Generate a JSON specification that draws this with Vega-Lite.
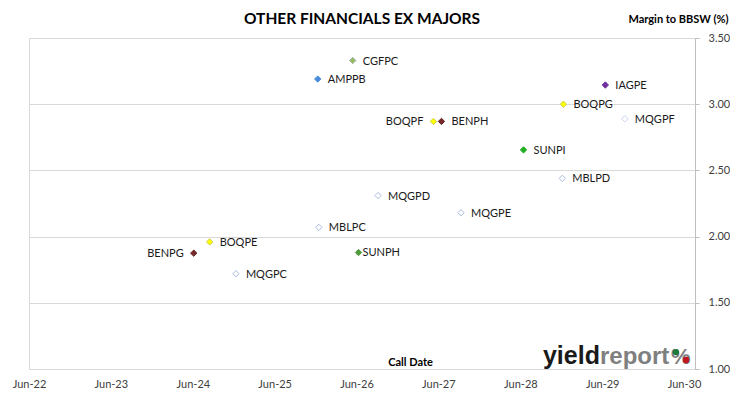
{
  "$schema": "https://vega.github.io/schema/vega-lite/v6.json",
  "autosize": {"type": "none"},
  "width": 666,
  "height": 331,
  "padding": {"left": 29, "top": 38, "right": 35, "bottom": 30},
  "background": "white",
  "title": {
    "text": "OTHER FINANCIALS EX MAJORS",
    "font": "Lato",
    "fontSize": 15.5,
    "fontWeight": "bold",
    "color": "#000000",
    "anchor": "middle",
    "baseline": "alphabetic",
    "offset": -26
  },
  "config": {
    "view": {"stroke": "#D9D9D9", "strokeWidth": 1},
    "text": {"font": "Lato", "fontSize": 11, "color": "#1a1a1a"}
  },
  "datasets": {
    "bonds": [
      {"code": "CGFPC", "date": "2026-05-15", "margin": 3.33},
      {"code": "AMPPB", "date": "2025-12-10", "margin": 3.19},
      {"code": "IAGPE", "date": "2029-06-15", "margin": 3.145},
      {"code": "BOQPG", "date": "2028-12-10", "margin": 3.0},
      {"code": "MQGPF", "date": "2029-09-10", "margin": 2.89},
      {"code": "BOQPF", "date": "2027-05-10", "margin": 2.87},
      {"code": "BENPH", "date": "2027-06-15", "margin": 2.87},
      {"code": "SUNPI", "date": "2028-06-15", "margin": 2.655},
      {"code": "MBLPD", "date": "2028-12-05", "margin": 2.44},
      {"code": "MQGPD", "date": "2026-09-05", "margin": 2.31},
      {"code": "MQGPE", "date": "2027-09-10", "margin": 2.18},
      {"code": "MBLPC", "date": "2025-12-15", "margin": 2.07},
      {"code": "BOQPE", "date": "2024-08-15", "margin": 1.96},
      {"code": "BENPG", "date": "2024-06-05", "margin": 1.875},
      {"code": "SUNPH", "date": "2026-06-10", "margin": 1.88},
      {"code": "MQGPC", "date": "2024-12-10", "margin": 1.72}
    ],
    "one": [{"k": 1}]
  },
  "layer": [
    {
      "data": {"name": "bonds"},
      "mark": {"type": "point", "shape": "diamond", "filled": true, "size": 40, "opacity": 1},
      "encoding": {
        "x": {
          "field": "date", "type": "temporal",
          "scale": {"domain": [{"year": 2022, "month": 6, "date": 1}, {"year": 2030, "month": 7, "date": 20}], "nice": false},
          "axis": {
            "values": [
              {"year": 2022, "month": 6, "date": 1}, {"year": 2023, "month": 6, "date": 1},
              {"year": 2024, "month": 6, "date": 1}, {"year": 2025, "month": 6, "date": 1},
              {"year": 2026, "month": 6, "date": 1}, {"year": 2027, "month": 6, "date": 1},
              {"year": 2028, "month": 6, "date": 1}, {"year": 2029, "month": 6, "date": 1},
              {"year": 2030, "month": 6, "date": 1}
            ],
            "format": "%b-%y",
            "grid": false, "domain": false, "ticks": false,
            "labelFont": "Lato", "labelFontSize": 11, "labelColor": "#404040",
            "labelPadding": 9, "labelFlush": false, "labelOverlap": false,
            "title": "Call Date",
            "titleFont": "Lato", "titleFontSize": 11, "titleFontWeight": "bold", "titleColor": "#000000",
            "titleX": 381, "titleY": -4, "titleBaseline": "alphabetic", "titleAnchor": null, "titleAlign": "center"
          }
        },
        "y": {
          "field": "margin", "type": "quantitative",
          "scale": {"domain": [1, 3.5], "nice": false, "zero": false},
          "axis": {
            "orient": "right",
            "values": [1, 1.25, 1.5, 1.75, 2, 2.25, 2.5, 2.75, 3, 3.25, 3.5],
            "format": ".2f",
            "grid": true, "gridColor": "#D9D9D9", "gridWidth": 1,
            "domainColor": "#BFBFBF", "tickColor": "#BFBFBF", "tickSize": 4,
            "labelFont": "Lato", "labelFontSize": 11, "labelColor": "#404040", "labelPadding": 9,
            "title": "Margin to BBSW (%)",
            "titleFont": "Lato", "titleFontSize": 11, "titleFontWeight": "bold", "titleColor": "#000000",
            "titleAngle": 0, "titleAlign": "right", "titleBaseline": "alphabetic",
            "titleX": 33, "titleY": -16
          }
        },
        "fill": {
          "field": "code", "type": "nominal", "legend": null,
          "scale": {
            "domain": ["CGFPC", "AMPPB", "IAGPE", "BOQPG", "MQGPF", "BOQPF", "BENPH", "SUNPI", "MBLPD", "MQGPD", "MQGPE", "MBLPC", "BOQPE", "BENPG", "SUNPH", "MQGPC"],
            "range": ["#9BBB59", "#4A8BDB", "#7030A0", "#FFFF00", "#FFFFFF", "#FFFF00", "#772C2A", "#1FAF1F", "#FFFFFF", "#FFFFFF", "#FFFFFF", "#FFFFFF", "#FFFF00", "#772C2A", "#4E9A3C", "#FFFFFF"]
          }
        },
        "stroke": {
          "field": "code", "type": "nominal", "legend": null,
          "scale": {
            "domain": ["CGFPC", "AMPPB", "IAGPE", "BOQPG", "MQGPF", "BOQPF", "BENPH", "SUNPI", "MBLPD", "MQGPD", "MQGPE", "MBLPC", "BOQPE", "BENPG", "SUNPH", "MQGPC"],
            "range": ["#9AAFB8", "#4A8BDB", "#7030A0", "#C9CF45", "#C6D4EC", "#C9CF45", "#5E2020", "#1FAF1F", "#A9BCE0", "#A9BCE0", "#A9BCE0", "#A9BCE0", "#C9CF45", "#5E2020", "#4E9A3C", "#A9BCE0"]
          }
        },
        "strokeWidth": {
          "field": "code", "type": "nominal", "legend": null,
          "scale": {
            "domain": ["CGFPC", "AMPPB", "IAGPE", "BOQPG", "MQGPF", "BOQPF", "BENPH", "SUNPI", "MBLPD", "MQGPD", "MQGPE", "MBLPC", "BOQPE", "BENPG", "SUNPH", "MQGPC"],
            "range": [1, 1, 1, 1, 1, 1, 1, 1, 2.2, 2.2, 2.2, 2.2, 1, 1, 1, 2.2]
          }
        }
      }
    },
    {
      "data": {"name": "bonds"},
      "transform": [{"filter": "indexof(['BOQPF','BENPG','SUNPH'], datum.code) < 0"}],
      "mark": {"type": "text", "align": "left", "baseline": "middle", "dx": 10, "dy": 1},
      "encoding": {
        "x": {"field": "date", "type": "temporal"},
        "y": {"field": "margin", "type": "quantitative"},
        "text": {"field": "code"}
      }
    },
    {
      "data": {"name": "bonds"},
      "transform": [{"filter": "datum.code === 'SUNPH'"}],
      "mark": {"type": "text", "align": "left", "baseline": "middle", "dx": 4, "dy": 1},
      "encoding": {
        "x": {"field": "date", "type": "temporal"},
        "y": {"field": "margin", "type": "quantitative"},
        "text": {"field": "code"}
      }
    },
    {
      "data": {"name": "bonds"},
      "transform": [{"filter": "datum.code === 'BOQPF' || datum.code === 'BENPG'"}],
      "mark": {"type": "text", "align": "right", "baseline": "middle", "dx": -10, "dy": 1},
      "encoding": {
        "x": {"field": "date", "type": "temporal"},
        "y": {"field": "margin", "type": "quantitative"},
        "text": {"field": "code"}
      }
    },
    {
      "data": {"name": "one"},
      "mark": {"type": "text", "text": "yield", "align": "right", "baseline": "alphabetic", "font": "Liberation Sans", "fontWeight": "bold", "fontSize": 25, "color": "#1A1A1A"},
      "encoding": {
        "x": {"datum": {"year": 2029, "month": 5, "date": 22}, "type": "temporal"},
        "y": {"datum": 1.04, "type": "quantitative"}
      }
    },
    {
      "data": {"name": "one"},
      "mark": {"type": "text", "text": "report", "align": "left", "baseline": "alphabetic", "font": "Liberation Sans", "fontWeight": "bold", "fontSize": 24, "color": "#7F7F7F"},
      "encoding": {
        "x": {"datum": {"year": 2029, "month": 5, "date": 22}, "type": "temporal"},
        "y": {"datum": 1.04, "type": "quantitative"}
      }
    },
    {
      "data": {"name": "one"},
      "mark": {"type": "text", "text": "%", "align": "left", "baseline": "alphabetic", "font": "Liberation Sans", "fontWeight": "bold", "fontSize": 22, "color": "#7F7F7F"},
      "encoding": {
        "x": {"datum": {"year": 2030, "month": 4, "date": 4}, "type": "temporal"},
        "y": {"datum": 1.04, "type": "quantitative"}
      }
    },
    {
      "data": {"name": "one"},
      "mark": {"type": "point", "shape": "circle", "filled": true, "size": 40, "opacity": 1, "color": "#1E7A3A"},
      "encoding": {
        "x": {"datum": {"year": 2030, "month": 4, "date": 26}, "type": "temporal"},
        "y": {"datum": 1.128, "type": "quantitative"}
      }
    },
    {
      "data": {"name": "one"},
      "mark": {"type": "point", "shape": "circle", "filled": true, "size": 40, "opacity": 1, "color": "#C0161E"},
      "encoding": {
        "x": {"datum": {"year": 2030, "month": 6, "date": 10}, "type": "temporal"},
        "y": {"datum": 1.068, "type": "quantitative"}
      }
    }
  ]
}
